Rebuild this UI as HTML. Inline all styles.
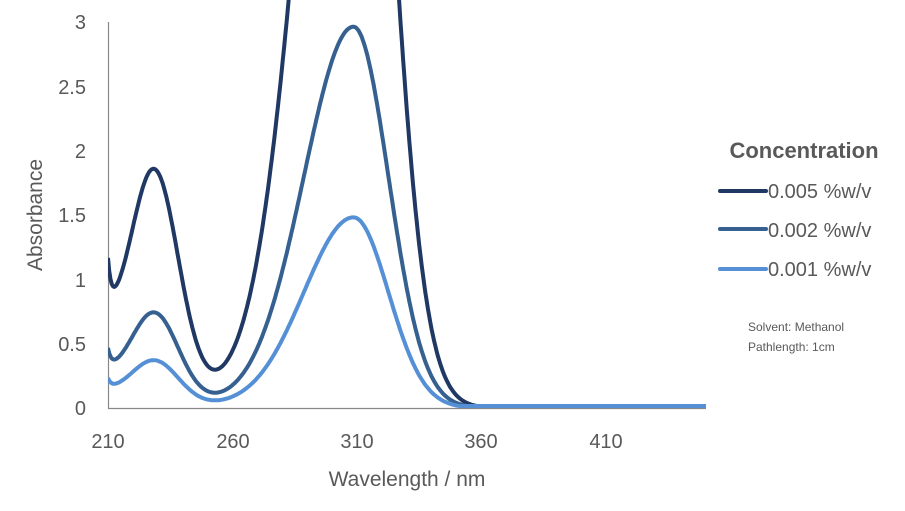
<!DOCTYPE html>
<html><head><meta charset="utf-8"><style>
body{margin:0;background:#fff;}
svg{display:block;font-family:"Liberation Sans",sans-serif;}
</style></head><body>
<svg id="s" width="905" height="511" viewBox="0 0 905 511">
<defs><clipPath id="c"><rect x="108" y="0" width="600" height="409"/></clipPath></defs>
<line x1="108.5" y1="22" x2="108.5" y2="409" stroke="#888" stroke-width="1.2"/>
<line x1="108" y1="408.5" x2="706" y2="408.5" stroke="#888" stroke-width="1.2"/>
<g fill="#595959" font-size="20" text-anchor="end">
<text x="86" y="415">0</text><text x="86" y="351">0.5</text><text x="86" y="287">1</text>
<text x="86" y="222">1.5</text><text x="86" y="158">2</text><text x="86" y="94">2.5</text><text x="86" y="29">3</text>
</g>
<g fill="#595959" font-size="20" text-anchor="middle">
<text x="108" y="448">210</text><text x="233" y="448">260</text><text x="357" y="448">310</text>
<text x="481" y="448">360</text><text x="606" y="448">410</text>
</g>
<text x="407" y="486" fill="#595959" font-size="21" text-anchor="middle">Wavelength / nm</text>
<text transform="translate(42,215) rotate(-90)" fill="#595959" font-size="21" text-anchor="middle">Absorbance</text>
<g id="curves" clip-path="url(#c)" fill="none" stroke-width="4" stroke-linejoin="round"></g>
<text x="804" y="158" fill="#595959" font-size="22" font-weight="bold" text-anchor="middle">Concentration</text>
<line x1="720" y1="191" x2="766" y2="191" stroke="#203864" stroke-width="4" stroke-linecap="round"/>
<line x1="720" y1="229" x2="766" y2="229" stroke="#35608f" stroke-width="4" stroke-linecap="round"/>
<line x1="720" y1="269" x2="766" y2="269" stroke="#5590d6" stroke-width="4" stroke-linecap="round"/>
<g fill="#595959" font-size="20">
<text x="768" y="198">0.005 %w/v</text><text x="768" y="237">0.002 %w/v</text><text x="768" y="276">0.001 %w/v</text>
</g>
<g fill="#595959" font-size="12">
<text x="748" y="331">Solvent: Methanol</text><text x="748" y="351">Pathlength: 1cm</text>
</g>
</svg>
<script>
function A(l){
  var s = l<309?20:14.1;
  var v = 1.48*Math.exp(-Math.pow((l-309)/s,2)/2);
  v += 0.32*Math.exp(-Math.pow((l-229)/9.5,2)/2);
  v += 0.12*Math.exp(-(l-210)/22);
  v += 0.07*Math.exp(-(l-210)/1.3);
  return v;
}
var g=document.getElementById('curves');
[[5,'#203864'],[2,'#35608f'],[1,'#5590d6']].forEach(function(p){
  var d='';
  for(var l=210;l<=451;l+=0.5){
    var x=108+(l-210)*2.48, y=408-p[0]*A(l)*128.7;
    if(y<-20)y=-20; if(y>406)y=406;
    d+=(d?'L':'M')+x.toFixed(1)+' '+y.toFixed(1);
  }
  var e=document.createElementNS('http://www.w3.org/2000/svg','path');
  e.setAttribute('d',d);e.setAttribute('stroke',p[1]);g.appendChild(e);
});
</script>
</body></html>
